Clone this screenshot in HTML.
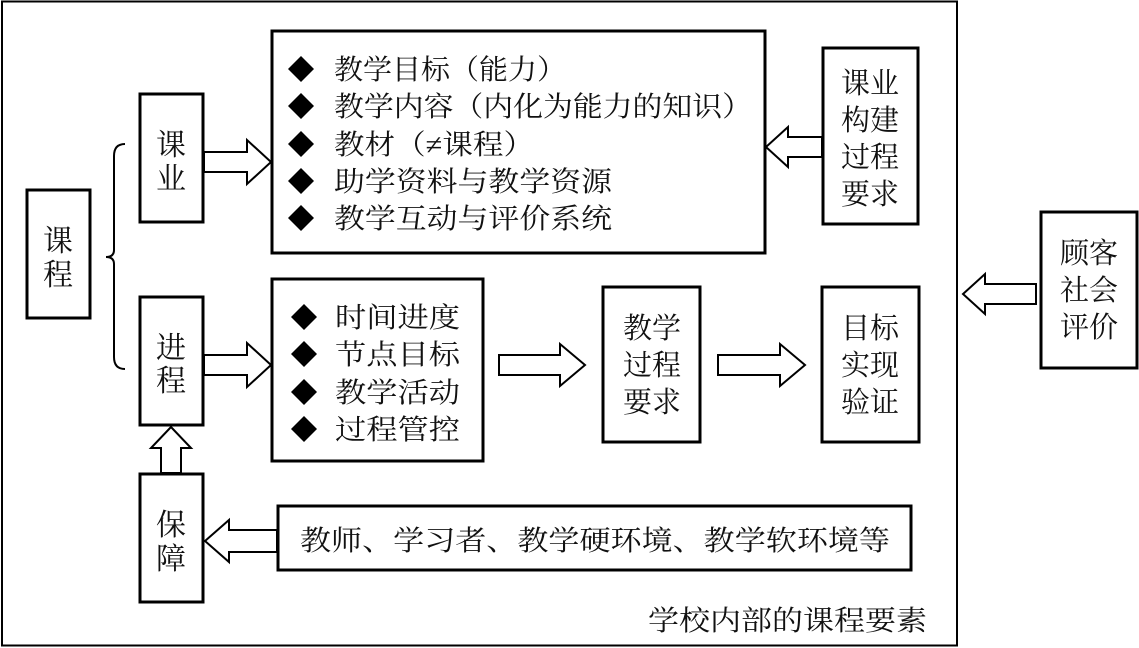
<!DOCTYPE html>
<html><head><meta charset="utf-8"><style>
html,body{margin:0;padding:0;background:#fff;}
svg{display:block;}
text{font-family:"Liberation Serif","Noto Serif CJK SC","Noto Sans CJK SC",serif;fill:#111;}
</style></head><body>
<svg width="1139" height="648" viewBox="0 0 1139 648" xmlns="http://www.w3.org/2000/svg">
<g fill="none" stroke="#000">
<rect x="2" y="1.5" width="955" height="644" stroke-width="2"/>
<g stroke-width="3">
<rect x="27" y="190" width="63" height="128"/>
<rect x="140" y="94" width="63" height="128"/>
<rect x="140" y="297" width="63" height="128"/>
<rect x="140" y="474" width="63" height="128"/>
<rect x="272" y="31" width="493" height="222"/>
<rect x="272" y="279" width="211" height="182"/>
<rect x="278" y="506" width="633" height="64"/>
<rect x="603" y="287" width="97" height="155"/>
<rect x="822" y="287" width="97" height="155"/>
<rect x="823" y="48" width="95" height="176"/>
<rect x="1041" y="212" width="96" height="156"/>
</g>
<path d="M125,144 Q114,144 114,156 L114,250 Q114,257 106,257 Q114,257 114,264 L114,357 Q114,369 125,369" stroke-width="2"/>
<g stroke-width="2" fill="#fff">
<path d="M204,152 L247,152 L247,140 L271,162 L247,184 L247,172 L204,172 Z"/>
<path d="M204,355 L247,355 L247,343 L271,365 L247,387 L247,375 L204,375 Z"/>
<path d="M161,473 L161,448 L151,448 L171,427 L191,448 L181,448 L181,473 Z"/>
<path d="M277,530 L229,530 L229,520 L205,541 L229,562 L229,552 L277,552 Z"/>
<path d="M822,137 L788,137 L788,127 L766,147 L788,167 L788,157 L822,157 Z"/>
<path d="M1036,284 L985,284 L985,274 L963,294 L985,314 L985,304 L1036,304 Z"/>
<path d="M499,355 L560,355 L560,344 L585,365 L560,386 L560,375 L499,375 Z"/>
<path d="M718,355 L780,355 L780,344 L805,365 L780,386 L780,375 L718,375 Z"/>
</g>
</g>
<g fill="#000">
<path d="M301,56 L314,69 L301,82 L288,69 Z"/>
<path d="M301,93 L314,106 L301,119 L288,106 Z"/>
<path d="M301,131 L314,144 L301,157 L288,144 Z"/>
<path d="M301,168 L314,181 L301,194 L288,181 Z"/>
<path d="M301,205 L314,218 L301,231 L288,218 Z"/>
<path d="M304,304 L317,317 L304,330 L291,317 Z"/>
<path d="M304,341 L317,354 L304,367 L291,354 Z"/>
<path d="M304,379 L317,392 L304,405 L291,392 Z"/>
<path d="M304,416 L317,429 L304,442 L291,429 Z"/>
</g>
<g font-size="30">
<text x="58" y="251" text-anchor="middle">课</text>
<text x="58" y="285" text-anchor="middle">程</text>
<text x="171" y="155" text-anchor="middle">课</text>
<text x="171" y="189" text-anchor="middle">业</text>
<text x="171" y="358" text-anchor="middle">进</text>
<text x="171" y="391" text-anchor="middle">程</text>
<text x="171" y="535" text-anchor="middle">保</text>
<text x="171" y="569" text-anchor="middle">障</text>
</g>
<g font-size="28">
<text x="334" y="79" textLength="232" lengthAdjust="spacingAndGlyphs">教学目标（能力）</text>
<text x="334" y="116" textLength="418" lengthAdjust="spacingAndGlyphs">教学内容（内化为能力的知识）</text>
<text x="334" y="154" textLength="200" lengthAdjust="spacingAndGlyphs">教材（≠课程）</text>
<text x="334" y="191" textLength="278" lengthAdjust="spacingAndGlyphs">助学资料与教学资源</text>
<text x="334" y="228" textLength="278" lengthAdjust="spacingAndGlyphs">教学互动与评价系统</text>
<text x="335" y="327" textLength="125" lengthAdjust="spacingAndGlyphs">时间进度</text>
<text x="335" y="364" textLength="125" lengthAdjust="spacingAndGlyphs">节点目标</text>
<text x="335" y="402" textLength="125" lengthAdjust="spacingAndGlyphs">教学活动</text>
<text x="335" y="439" textLength="125" lengthAdjust="spacingAndGlyphs">过程管控</text>
<text x="300" y="550" textLength="590" lengthAdjust="spacingAndGlyphs">教师、学习者、教学硬环境、教学软环境等</text>
<text x="648" y="630" textLength="279" lengthAdjust="spacingAndGlyphs">学校内部的课程要素</text>
</g>
<g font-size="29" text-anchor="middle">
<text x="652" y="338">教学</text>
<text x="652" y="375">过程</text>
<text x="652" y="412">要求</text>
<text x="870" y="338">目标</text>
<text x="870" y="375">实现</text>
<text x="870" y="412">验证</text>
<text x="870" y="93">课业</text>
<text x="870" y="130">构建</text>
<text x="870" y="167">过程</text>
<text x="870" y="204">要求</text>
<text x="1089" y="263">顾客</text>
<text x="1089" y="300">社会</text>
<text x="1089" y="337">评价</text>
</g>
</svg>
</body></html>
